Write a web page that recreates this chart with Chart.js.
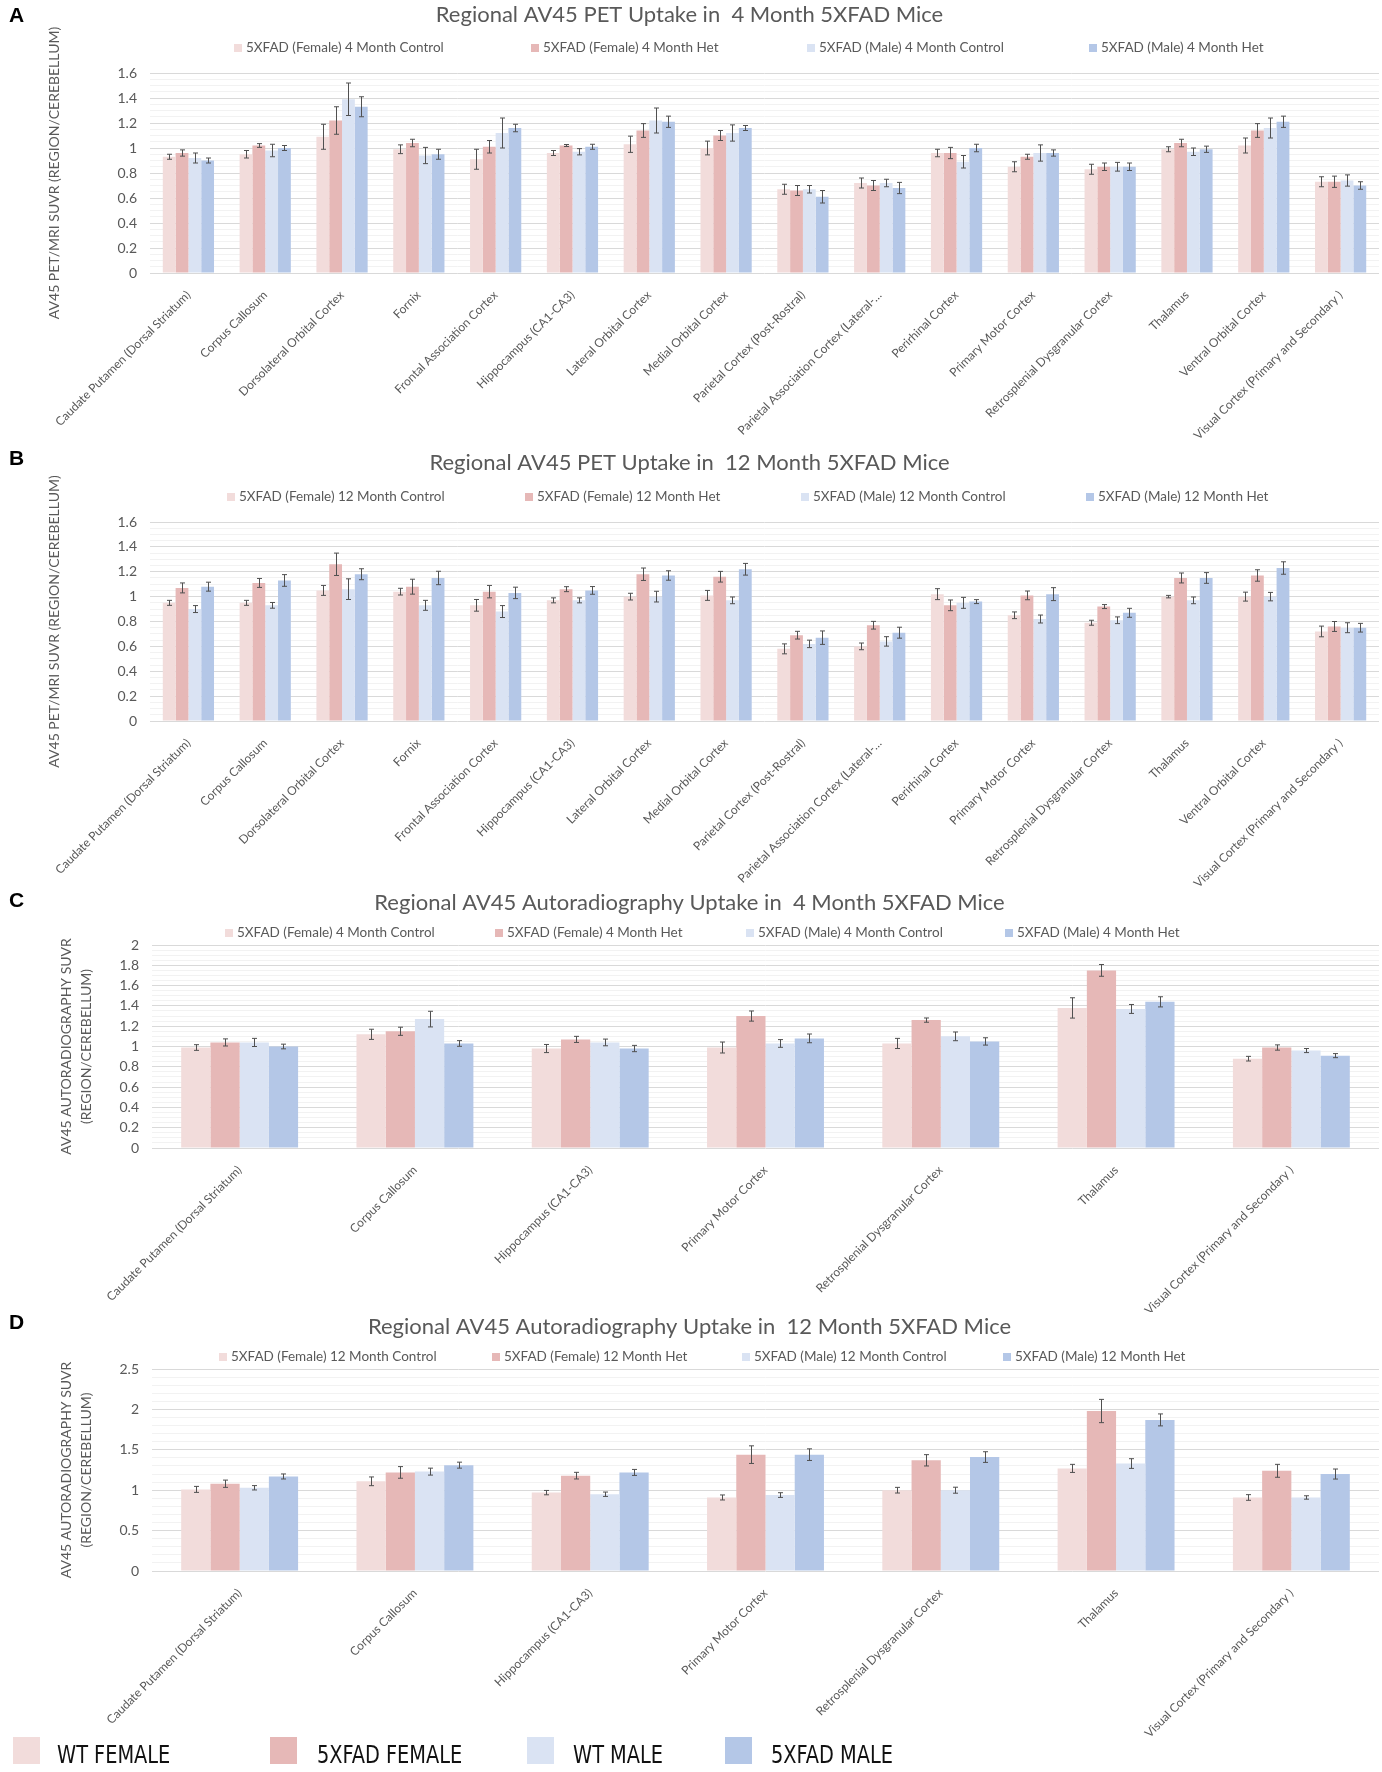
<!DOCTYPE html>
<html>
<head>
<meta charset="utf-8">
<script src="https://cdn.jsdelivr.net/npm/chart.js@4.4.1/dist/chart.umd.min.js"></script>
<style>
body { margin:0; background:#fff; }
#page { position:relative; width:1382px; height:1772px; overflow:hidden; background:#fff; }
.panel { position:absolute; left:0; width:1382px; }
.letter { position:absolute; left:9px; font:bold 21px "Liberation Sans", Arial, sans-serif; line-height:1; color:#000; }
.leg { position:absolute; white-space:nowrap; font:13.5px Lato, "Open Sans", sans-serif; color:#595959; line-height:14px; }
.leg i { display:inline-block; width:8px; height:8px; margin-right:4px; vertical-align:0px; }
.big { position:absolute; white-space:nowrap; font:25px "Liberation Sans Narrow", "DejaVu Sans Condensed", "Liberation Sans", sans-serif; color:#111; line-height:27px; transform:scaleX(0.86); transform-origin:0 50%; }
.bigbox { position:absolute; width:27px; height:27px; }
</style>
</head>
<body>
<div id="page"></div>
<script>
// ---- data ----
const regionsPET = ['Caudate Putamen (Dorsal Striatum)', 'Corpus Callosum', 'Dorsolateral Orbital Cortex', 'Fornix',
  'Frontal Association Cortex', 'Hippocampus (CA1-CA3)', 'Lateral Orbital Cortex', 'Medial Orbital Cortex',
  'Parietal Cortex (Post-Rostral)', 'Parietal Association Cortex (Lateral-…', 'Perirhinal Cortex', 'Primary Motor Cortex',
  'Retrosplenial Dysgranular Cortex', 'Thalamus', 'Ventral Orbital Cortex', 'Visual Cortex (Primary and Secondary )'];
const regionsAR = ['Caudate Putamen (Dorsal Striatum)', 'Corpus Callosum', 'Hippocampus (CA1-CA3)', 'Primary Motor Cortex',
  'Retrosplenial Dysgranular Cortex', 'Thalamus', 'Visual Cortex (Primary and Secondary )'];

const legend4 = ['5XFAD (Female) 4 Month Control', '5XFAD (Female) 4 Month Het', '5XFAD (Male) 4 Month Control', '5XFAD (Male) 4 Month Het'];
const legend12 = ['5XFAD (Female) 12 Month Control', '5XFAD (Female) 12 Month Het', '5XFAD (Male) 12 Month Control', '5XFAD (Male) 12 Month Het'];
const groupNames = ['WT FEMALE', '5XFAD FEMALE', 'WT MALE', '5XFAD MALE'];

// A - PET 4 month
const pet4FemCtrl    = [0.93, 0.95, 1.09, 0.99, 0.91, 0.96, 1.03, 1.00, 0.67, 0.72, 0.96, 0.85, 0.83, 0.99, 1.02, 0.73];
const pet4FemCtrlErr = [0.02, 0.03, 0.10, 0.035, 0.08, 0.02, 0.065, 0.055, 0.04, 0.04, 0.03, 0.04, 0.04, 0.02, 0.06, 0.04];
const pet4FemHet     = [0.96, 1.02, 1.22, 1.04, 1.01, 1.02, 1.14, 1.10, 0.66, 0.70, 0.96, 0.93, 0.85, 1.04, 1.14, 0.73];
const pet4FemHetErr  = [0.025, 0.015, 0.11, 0.03, 0.05, 0.008, 0.055, 0.04, 0.04, 0.04, 0.045, 0.02, 0.03, 0.03, 0.055, 0.045];
const pet4MaleCtrl   = [0.92, 0.98, 1.39, 0.94, 1.12, 0.97, 1.22, 1.12, 0.67, 0.72, 0.89, 0.96, 0.85, 0.97, 1.16, 0.74];
const pet4MaleCtrlErr= [0.04, 0.05, 0.13, 0.065, 0.12, 0.025, 0.10, 0.065, 0.03, 0.03, 0.05, 0.065, 0.035, 0.03, 0.08, 0.045];
const pet4MaleHet    = [0.90, 1.00, 1.33, 0.95, 1.16, 1.01, 1.21, 1.16, 0.61, 0.68, 1.00, 0.96, 0.85, 0.99, 1.21, 0.70];
const pet4MaleHetErr = [0.02, 0.02, 0.08, 0.04, 0.03, 0.02, 0.045, 0.02, 0.05, 0.045, 0.03, 0.025, 0.03, 0.025, 0.045, 0.03];

// B - PET 12 month
const pet12FemCtrl    = [0.95, 0.95, 1.05, 1.04, 0.93, 0.97, 1.00, 1.01, 0.58, 0.60, 1.02, 0.85, 0.79, 1.00, 1.00, 0.72];
const pet12FemCtrlErr = [0.02, 0.02, 0.04, 0.027, 0.047, 0.02, 0.027, 0.04, 0.04, 0.027, 0.044, 0.027, 0.02, 0.01, 0.036, 0.043];
const pet12FemHet     = [1.07, 1.11, 1.26, 1.08, 1.04, 1.06, 1.18, 1.16, 0.69, 0.77, 0.93, 1.01, 0.92, 1.15, 1.17, 0.76];
const pet12FemHetErr  = [0.04, 0.036, 0.09, 0.06, 0.05, 0.02, 0.05, 0.043, 0.031, 0.031, 0.043, 0.035, 0.016, 0.04, 0.046, 0.04];
const pet12MaleCtrl   = [0.90, 0.93, 1.06, 0.93, 0.88, 0.97, 1.00, 0.97, 0.62, 0.64, 0.95, 0.82, 0.81, 0.97, 1.00, 0.75];
const pet12MaleCtrlErr= [0.028, 0.023, 0.083, 0.04, 0.048, 0.02, 0.043, 0.027, 0.03, 0.038, 0.044, 0.032, 0.027, 0.027, 0.034, 0.04];
const pet12MaleHet    = [1.08, 1.13, 1.18, 1.15, 1.03, 1.05, 1.17, 1.22, 0.67, 0.71, 0.96, 1.02, 0.87, 1.15, 1.23, 0.75];
const pet12MaleHetErr = [0.036, 0.047, 0.044, 0.054, 0.046, 0.031, 0.038, 0.047, 0.054, 0.044, 0.016, 0.052, 0.036, 0.043, 0.05, 0.035];

// C - autoradiography 4 month
const ar4FemCtrl    = [0.99, 1.12, 0.98, 0.99, 1.03, 1.38, 0.88];
const ar4FemCtrlErr = [0.028, 0.05, 0.04, 0.054, 0.05, 0.10, 0.023];
const ar4FemHet     = [1.04, 1.15, 1.07, 1.30, 1.26, 1.75, 0.99];
const ar4FemHetErr  = [0.035, 0.04, 0.03, 0.05, 0.021, 0.058, 0.026];
const ar4MaleCtrl   = [1.04, 1.27, 1.04, 1.03, 1.10, 1.37, 0.96];
const ar4MaleCtrlErr= [0.04, 0.077, 0.033, 0.038, 0.043, 0.044, 0.02];
const ar4MaleHet    = [1.00, 1.03, 0.98, 1.08, 1.05, 1.44, 0.91];
const ar4MaleHetErr = [0.023, 0.028, 0.031, 0.043, 0.036, 0.05, 0.02];

// D - autoradiography 12 month
const ar12FemCtrl    = [1.01, 1.11, 0.97, 0.91, 1.00, 1.27, 0.91];
const ar12FemCtrlErr = [0.037, 0.054, 0.027, 0.031, 0.035, 0.05, 0.035];
const ar12FemHet     = [1.08, 1.22, 1.18, 1.44, 1.37, 1.98, 1.24];
const ar12FemHetErr  = [0.045, 0.072, 0.041, 0.109, 0.07, 0.144, 0.08];
const ar12MaleCtrl   = [1.03, 1.23, 0.95, 0.94, 1.00, 1.33, 0.91];
const ar12MaleCtrlErr= [0.027, 0.043, 0.027, 0.029, 0.037, 0.06, 0.021];
const ar12MaleHet    = [1.17, 1.31, 1.22, 1.44, 1.41, 1.87, 1.20];
const ar12MaleHetErr = [0.031, 0.037, 0.037, 0.072, 0.066, 0.074, 0.062];

// ---- styling / layout ----
const seriesColors = ['#F2DCDB', '#E6B8B7', '#DAE3F3', '#B4C7E7'];

const panels = [
  { letter:'A', letterTop:4, top:0, h:448, title:'Regional AV45 PET Uptake in  4 Month 5XFAD Mice',
    cats:regionsPET, legend:legend4,
    vals:[pet4FemCtrl, pet4FemHet, pet4MaleCtrl, pet4MaleHet],
    errs:[pet4FemCtrlErr, pet4FemHetErr, pet4MaleCtrlErr, pet4MaleHetErr],
    yTitle:'AV45 PET/MRI SUVR (REGION/CEREBELLUM)', yTitleX:54, max:1.6, major:0.2, minor:0.05,
    titleY:15, plotTop:73, plotBottom:273, left:150, legendY:47, legendX:[234, 531, 807, 1089] },
  { letter:'B', letterTop:447, top:448, h:440, title:'Regional AV45 PET Uptake in  12 Month 5XFAD Mice',
    cats:regionsPET, legend:legend12,
    vals:[pet12FemCtrl, pet12FemHet, pet12MaleCtrl, pet12MaleHet],
    errs:[pet12FemCtrlErr, pet12FemHetErr, pet12MaleCtrlErr, pet12MaleHetErr],
    yTitle:'AV45 PET/MRI SUVR (REGION/CEREBELLUM)', yTitleX:54, max:1.6, major:0.2, minor:0.05,
    titleY:15, plotTop:74, plotBottom:273, left:150, legendY:48, legendX:[227, 525, 801, 1086] },
  { letter:'C', letterTop:889, top:888, h:424, title:'Regional AV45 Autoradiography Uptake in  4 Month 5XFAD Mice',
    cats:regionsAR, legend:legend4,
    vals:[ar4FemCtrl, ar4FemHet, ar4MaleCtrl, ar4MaleHet],
    errs:[ar4FemCtrlErr, ar4FemHetErr, ar4MaleCtrlErr, ar4MaleHetErr],
    yTitle:['AV45 AUTORADIOGRAPHY SUVR', '(REGION/CEREBELLUM)'], yTitleX:66, max:2, major:0.2, minor:0.05,
    titleY:15, plotTop:57, plotBottom:260, left:152, legendY:44, legendX:[225, 495, 746, 1005] },
  { letter:'D', letterTop:1311, top:1312, h:440, title:'Regional AV45 Autoradiography Uptake in  12 Month 5XFAD Mice',
    cats:regionsAR, legend:legend12,
    vals:[ar12FemCtrl, ar12FemHet, ar12MaleCtrl, ar12MaleHet],
    errs:[ar12FemCtrlErr, ar12FemHetErr, ar12MaleCtrlErr, ar12MaleHetErr],
    yTitle:['AV45 AUTORADIOGRAPHY SUVR', '(REGION/CEREBELLUM)'], yTitleX:66, max:2.5, major:0.5, minor:0.1,
    titleY:15, plotTop:57, plotBottom:259, left:152, legendY:44, legendX:[219, 492, 742, 1003] }
];

Chart.defaults.font.family = "Lato, 'Open Sans', sans-serif";
Chart.defaults.color = '#595959';
const titleSize = 22;
const titleHalf = titleSize * 1.2 / 2;

// error bars drawn on top of the bars, through the y scale
const errorBars = {
  id: 'errorBars',
  afterDatasetsDraw(chart) {
    const ctx = chart.ctx, y = chart.scales.y;
    ctx.save();
    ctx.strokeStyle = '#505050';
    ctx.lineWidth = 1;
    chart.data.datasets.forEach((ds, i) => {
      chart.getDatasetMeta(i).data.forEach((bar, j) => {
        const v = ds.data[j], e = ds.errors[j];
        const x = Math.round(bar.x) + 0.5;
        const t = y.getPixelForValue(v + e), b = y.getPixelForValue(v - e);
        ctx.beginPath();
        ctx.moveTo(x, t); ctx.lineTo(x, b);
        ctx.moveTo(x - 2.5, t); ctx.lineTo(x + 2.5, t);
        ctx.moveTo(x - 2.5, b); ctx.lineTo(x + 2.5, b);
        ctx.stroke();
      });
    });
    ctx.restore();
  }
};

const page = document.getElementById('page');
const isMajor = (v, step) => Math.abs(v / step - Math.round(v / step)) < 1e-6;

panels.forEach(p => {
  const div = document.createElement('div');
  div.className = 'panel';
  div.style.top = p.top + 'px';
  div.style.height = p.h + 'px';
  const canvas = document.createElement('canvas');
  canvas.width = 1382; canvas.height = p.h;
  div.appendChild(canvas);
  page.appendChild(div);

  const letter = document.createElement('div');
  letter.className = 'letter';
  letter.style.top = p.letterTop + 'px';
  letter.textContent = p.letter;
  page.appendChild(letter);

  // legend row
  p.legend.forEach((txt, k) => {
    const item = document.createElement('div');
    item.className = 'leg';
    item.style.left = p.legendX[k] + 'px';
    item.style.top = (p.top + p.legendY - 7) + 'px';
    item.innerHTML = '<i style="background:' + seriesColors[k] + '"></i>' + txt;
    page.appendChild(item);
  });

  const multi = Array.isArray(p.yTitle);
  const yLine = multi ? 20 : 16.8;

  new Chart(canvas, {
    type: 'bar',
    data: {
      labels: p.cats,
      datasets: p.vals.map((vals, k) => ({
        label: p.legend[k],
        data: vals,
        errors: p.errs[k],
        backgroundColor: seriesColors[k],
        borderWidth: 0,
        barPercentage: 1,
        categoryPercentage: 0.667
      }))
    },
    options: {
      responsive: false,
      animation: false,
      layout: { padding: { left: 0, right: 3, top: 0, bottom: 0 } },
      plugins: {
        legend: { display: false },
        tooltip: { enabled: false },
        title: {
          display: true,
          text: p.title,
          color: '#595959',
          font: { size: titleSize, weight: 'normal', lineHeight: 1.2 },
          padding: { top: p.titleY - titleHalf, bottom: p.plotTop - p.titleY - titleHalf }
        }
      },
      scales: {
        x: {
          grid: { display: false },
          border: { display: false },
          ticks: { autoSkip: false, minRotation: 45, maxRotation: 45, padding: 7,
                   color: '#595959', font: { size: 12 } },
          afterFit(s) { s.height = p.h - p.plotBottom; }
        },
        y: {
          min: 0, max: p.max,
          border: { display: false },
          grid: {
            drawTicks: false,
            color: c => isMajor(c.tick.value, p.major) ? '#D9D9D9' : '#F2F2F2'
          },
          ticks: {
            stepSize: p.minor, autoSkip: false, padding: 13,
            color: '#595959', font: { size: 14 },
            callback: v => isMajor(v, p.major) ? String(Math.round(v * 10) / 10) : ''
          },
          title: {
            display: true, text: p.yTitle, color: '#595959',
            font: { size: 14, lineHeight: yLine / 14 },
            padding: { top: p.yTitleX - yLine / 2, bottom: 0 }
          },
          afterFit(s) { s.width = p.left; }
        }
      }
    },
    plugins: [errorBars]
  });
});

// shared group legend at the bottom
const bigBoxX = [13, 270, 527, 725];
const bigTextX = [57, 317, 573, 771];
groupNames.forEach((g, k) => {
  const box = document.createElement('div');
  box.className = 'bigbox';
  box.style.left = bigBoxX[k] + 'px';
  box.style.top = '1737px';
  box.style.background = seriesColors[k];
  page.appendChild(box);
  const t = document.createElement('div');
  t.className = 'big';
  t.style.left = bigTextX[k] + 'px';
  t.style.top = '1741px';
  t.textContent = g;
  page.appendChild(t);
});
</script>
</body>
</html>
